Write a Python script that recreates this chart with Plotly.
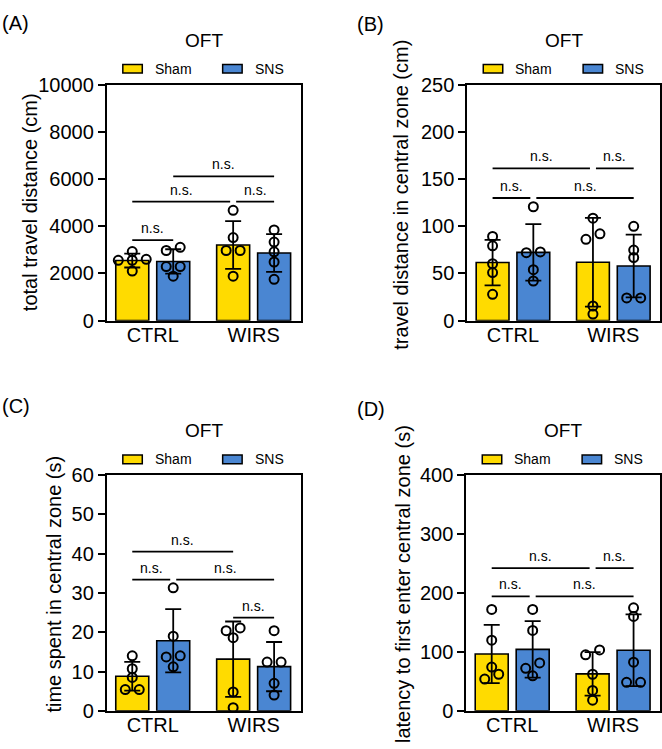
import numpy as np
import plotly.graph_objects as go

# ---------------- data ----------------
groups = ["CTRL", "WIRS"]
series = ["Sham", "SNS"]
panel_letters = ["A", "B", "C", "D"]
panel_titles = ["OFT", "OFT", "OFT", "OFT"]
y_titles = [
    "total travel distance (cm)",
    "travel distance in central zone (cm)",
    "time spent in central zone (s)",
    "latency to first enter central zone (s)",
]
y_max = [10000, 250, 60, 400]
y_dtick = [2000, 50, 10, 100]

# individual animals (n = 5 per group)
a_ctrl_sham = [2930, 2600, 2560, 2555, 2100]
a_ctrl_sns = [3110, 2974, 2292, 2292, 1883]
a_wirs_sham = [4679, 3520, 2974, 2974, 1883]
a_wirs_sns = [3847, 3333, 2917, 2486, 1750]

b_ctrl_sham = [89.3, 79.3, 60.3, 51.0, 27.9]
b_ctrl_sns = [120.7, 72.0, 72.8, 54.0, 42.0]
b_wirs_sham = [108.6, 86.2, 92.0, 15.5, 6.9]
b_wirs_sns = [100.0, 74.8, 66.9, 24.1, 24.1]

c_ctrl_sham = [14.0, 10.7, 8.5, 5.4, 5.4]
c_ctrl_sns = [31.3, 19.0, 14.0, 13.7, 11.2]
c_wirs_sham = [20.4, 21.1, 18.6, 4.8, 0.8]
c_wirs_sns = [20.4, 12.4, 12.4, 7.0, 4.0]

d_ctrl_sham = [172.0, 119.8, 74.2, 53.8, 62.0]
d_ctrl_sns = [172.0, 136.3, 81.3, 72.0, 59.3]
d_wirs_sham = [103.3, 95.0, 62.0, 34.6, 18.1]
d_wirs_sns = [174.7, 160.0, 82.4, 48.4, 48.4]

panel_data = [
    {"CTRL": {"Sham": a_ctrl_sham, "SNS": a_ctrl_sns}, "WIRS": {"Sham": a_wirs_sham, "SNS": a_wirs_sns}},
    {"CTRL": {"Sham": b_ctrl_sham, "SNS": b_ctrl_sns}, "WIRS": {"Sham": b_wirs_sham, "SNS": b_wirs_sns}},
    {"CTRL": {"Sham": c_ctrl_sham, "SNS": c_ctrl_sns}, "WIRS": {"Sham": c_wirs_sham, "SNS": c_wirs_sns}},
    {"CTRL": {"Sham": d_ctrl_sham, "SNS": d_ctrl_sns}, "WIRS": {"Sham": d_wirs_sham, "SNS": d_wirs_sns}},
]

# comparisons: (bar i, bar j, bracket level); bars: 0 CTRL-Sham, 1 CTRL-SNS, 2 WIRS-Sham, 3 WIRS-SNS
comparisons = [
    [(0, 1, 3410), (0, 2, 5048), (2, 3, 5048), (1, 3, 6112)],
    [(0, 1, 130), (1, 3, 130), (0, 2, 161.3), (2, 3, 161.3)],
    [(0, 2, 40.5), (0, 1, 33.4), (1, 3, 33.4), (2, 3, 23.7)],
    [(0, 1, 194), (1, 3, 194), (0, 2, 242), (2, 3, 242)],
]
sig_label = "n.s."

# ---------------- style / layout ----------------
W, H = 662, 749
FONT = "Liberation Sans, Arial, sans-serif"
colors = {"Sham": "#FFDB00", "SNS": "#4A86D2"}
geom = [(107, 301, 76, 319), (468, 661, 76, 319), (107, 301, 478, 721), (467, 661, 478, 721)]
title_y = [30, 30, 432, 432]
legend_y = [59.5, 59.5, 462, 462]
label_pos = [(0, 12.5), (356, 13), (0, 407), (356, 410)]
ytitle_pos = [(30, 197), (402, 189), (54, 590), (403, 590)]
x_range = [-0.455, 1.465]
bar_off = 0.203
bar_w = 0.327


def px(x):
    return x / W


def py(y):
    return 1 - y / H


def swarm(vals, ppu_y, ppu_x, thresh=7.0, step=14.0):
    vals = np.asarray(vals, dtype=float)
    order = np.argsort(vals)
    clusters = []
    for i in order:
        if clusters and abs(vals[clusters[-1][-1]] - vals[i]) * ppu_y < thresh:
            clusters[-1].append(i)
        else:
            clusters.append([i])
    offs = np.zeros(len(vals))
    for c in clusters:
        n = len(c)
        for k, i in enumerate(c):
            offs[i] = (k - (n - 1) / 2) * step / ppu_x
    return offs


fig = go.Figure()
shapes = []
annotations = []

for p in range(4):
    x0, x1, y0, y1 = geom[p]
    sfx = "" if p == 0 else str(p + 1)
    xa, ya = "x" + sfx, "y" + sfx
    ppu_x = (x1 - x0) / (x_range[1] - x_range[0])
    ppu_y = (y1 - y0) / y_max[p]
    data = panel_data[p]

    bar_x = {}
    for s in series:
        xs, means, sds = [], [], []
        for g_i, g in enumerate(groups):
            v = np.asarray(data[g][s], dtype=float)
            xs.append(g_i + (-bar_off if s == "Sham" else bar_off))
            means.append(v.mean())
            sds.append(v.std(ddof=1))
        fig.add_trace(go.Bar(
            x=xs, y=means, width=bar_w, xaxis=xa, yaxis=ya, showlegend=False,
            marker=dict(color=colors[s], line=dict(color="black", width=1.6)),
            error_y=dict(type="data", array=sds, color="black", thickness=1.8, width=8),
        ))
    for g_i, g in enumerate(groups):
        for s in series:
            bar_x[(g_i, s)] = g_i + (-bar_off if s == "Sham" else bar_off)
    for g_i, g in enumerate(groups):
        for s in series:
            v = np.asarray(data[g][s], dtype=float)
            offs = swarm(v, ppu_y, ppu_x)
            fig.add_trace(go.Scatter(
                x=bar_x[(g_i, s)] + offs, y=v, mode="markers", xaxis=xa, yaxis=ya,
                showlegend=False,
                marker=dict(symbol="circle-open", size=9, color="black", line=dict(width=2)),
            ))

    centers = [bar_x[(0, "Sham")], bar_x[(0, "SNS")], bar_x[(1, "Sham")], bar_x[(1, "SNS")]]
    comps = comparisons[p]
    gap = 3.0 / ppu_x
    for (i, j, lvl) in comps:
        xa0, xa1 = centers[i], centers[j]
        shared_i = any(((k == i or m == i) and lv == lvl and (k, m) != (i, j)) for (k, m, lv) in comps)
        shared_j = any(((k == j or m == j) and lv == lvl and (k, m) != (i, j)) for (k, m, lv) in comps)
        if shared_i:
            xa0 += gap
        if shared_j:
            xa1 -= gap
        shapes.append(dict(type="line", xref=xa, yref=ya, x0=xa0, x1=xa1, y0=lvl, y1=lvl,
                           line=dict(color="black", width=1.8)))
        annotations.append(dict(xref=xa, yref=ya, x=(xa0 + xa1) / 2, y=lvl, text=sig_label,
                                showarrow=False, yanchor="bottom", yshift=2,
                                font=dict(family=FONT, size=14, color="black")))

    # axes
    xkey = "xaxis" + sfx
    ykey = "yaxis" + sfx
    fig.update_layout(**{
        xkey: dict(domain=[px(x0), px(x1)], range=x_range, anchor=ya, tickmode="array",
                   tickvals=[0, 1], ticktext=groups, ticks="", showgrid=False, zeroline=False,
                   showline=True, mirror=True, linecolor="black", linewidth=2,
                   ticklabelstandoff=-5,
                   tickfont=dict(family=FONT, size=20, color="black"), fixedrange=True),
        ykey: dict(domain=[py(y1), py(y0)], range=[0, y_max[p]], dtick=y_dtick[p], anchor=xa,
                   tickformat="d",
                   ticks="outside", ticklen=7, tickwidth=2, tickcolor="black", showgrid=False,
                   zeroline=False, showline=True, mirror=True, linecolor="black", linewidth=2,
                   tickfont=dict(family=FONT, size=20, color="black"), fixedrange=True),
    })

    # title, panel label, y title
    annotations.append(dict(xref="paper", yref="paper", x=px((x0 + x1) / 2), y=py(title_y[p]),
                            text=panel_titles[p], showarrow=False, xanchor="center", yanchor="middle",
                            font=dict(family=FONT, size=19, color="black")))
    lx, ly = label_pos[p]
    annotations.append(dict(xref="paper", yref="paper", x=px(lx), y=py(ly),
                            text="(" + panel_letters[p] + ")", showarrow=False, xanchor="left",
                            yanchor="middle", font=dict(family=FONT, size=20, color="black")))
    tx, ty = ytitle_pos[p]
    annotations.append(dict(xref="paper", yref="paper", x=px(tx), y=py(ty), text=y_titles[p],
                            textangle=-90, showarrow=False, xanchor="center", yanchor="middle",
                            font=dict(family=FONT, size=20, color="black")))

    # legend (manual)
    ly_c = legend_y[p]
    for k, s in enumerate(series):
        sx = x0 + 16 + k * 100
        shapes.append(dict(type="rect", xref="paper", yref="paper", x0=px(sx), x1=px(sx + 19.5),
                           y0=py(ly_c + 4.5), y1=py(ly_c - 4.5), fillcolor=colors[s],
                           line=dict(color="black", width=1.5)))
        annotations.append(dict(xref="paper", yref="paper", x=px(sx + 30), y=py(ly_c), text=s,
                                showarrow=False, xanchor="left", yanchor="middle",
                                font=dict(family=FONT, size=14, color="black")))

fig.update_layout(
    width=W, height=H, margin=dict(l=0, r=0, t=0, b=0), barmode="overlay",
    paper_bgcolor="white", plot_bgcolor="white", showlegend=False,
    shapes=shapes, annotations=annotations,
    font=dict(family=FONT, size=14, color="black"),
)

fig.write_html("out.html")
